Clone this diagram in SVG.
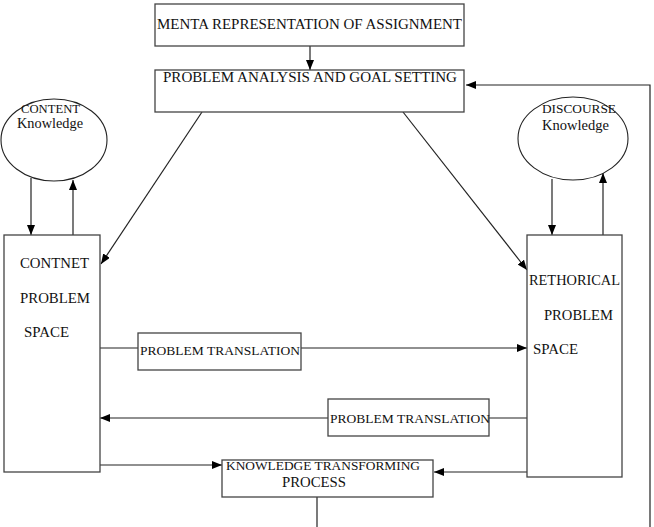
<svg xmlns="http://www.w3.org/2000/svg" width="654" height="527" viewBox="0 0 654 527">
<defs>
<marker id="ah" markerUnits="userSpaceOnUse" markerWidth="10" markerHeight="8" refX="10" refY="4" orient="auto">
<path d="M0,0 L10,4 L0,8 z" fill="#000"/>
</marker>
<style>
.box{fill:#fff;stroke:#444;stroke-width:1.3}
.ell{fill:#fff;stroke:#222;stroke-width:1.1}
.ln{fill:none;stroke:#222;stroke-width:1.2}
.ar{fill:none;stroke:#222;stroke-width:1.2;marker-end:url(#ah)}
text{font-family:"Liberation Serif","Times New Roman",serif;fill:#111}
.t15{font-size:14.8px}
.t13{font-size:13.4px}
</style>
</defs>
<rect width="654" height="527" fill="#fff"/>
<g id="connectors">
<line class="ar" x1="310" y1="46" x2="310" y2="70"/>
<polyline class="ar" points="650,527 650,85 466,85"/>
<line class="ar" x1="202" y1="112" x2="101" y2="264"/>
<line class="ar" x1="403" y1="112" x2="527" y2="270"/>
<line class="ar" x1="31" y1="178" x2="31" y2="235"/>
<line class="ar" x1="73" y1="235" x2="73" y2="180"/>
<line class="ar" x1="552" y1="179" x2="552" y2="235"/>
<line class="ar" x1="603" y1="235" x2="603" y2="173"/>
<line class="ln" x1="100" y1="348" x2="138" y2="348"/>
<line class="ar" x1="301" y1="348" x2="527" y2="348"/>
<line class="ln" x1="527" y1="418" x2="489" y2="418"/>
<line class="ar" x1="328" y1="418" x2="100" y2="418"/>
<line class="ar" x1="100" y1="465" x2="222" y2="465"/>
<line class="ar" x1="527" y1="472" x2="434" y2="472"/>
<line class="ln" x1="317" y1="497" x2="317" y2="527"/>
</g>
<g id="mental-representation">
<rect class="box" x="155" y="4" width="309" height="42"/>
<text class="t15" x="157" y="29" textLength="305" lengthAdjust="spacingAndGlyphs">MENTA REPRESENTATION OF ASSIGNMENT</text>
</g>
<g id="problem-analysis">
<rect class="box" x="155" y="70" width="309" height="42"/>
<text class="t15" x="163" y="82" textLength="294" lengthAdjust="spacingAndGlyphs">PROBLEM ANALYSIS AND GOAL SETTING</text>
</g>
<g id="content-knowledge">
<ellipse class="ell" cx="54" cy="140" rx="53" ry="41"/>
<text x="21" y="113" style="font-size:12.6px" textLength="59" lengthAdjust="spacingAndGlyphs">CONTENT</text>
<text x="17" y="128" style="font-size:14.3px" textLength="66" lengthAdjust="spacingAndGlyphs">Knowledge</text>
</g>
<g id="discourse-knowledge">
<ellipse class="ell" cx="573" cy="138.5" rx="55" ry="41.5"/>
<text x="542" y="113" style="font-size:13.3px" textLength="74" lengthAdjust="spacingAndGlyphs">DISCOURSE</text>
<text x="542" y="130" style="font-size:14.5px" textLength="67" lengthAdjust="spacingAndGlyphs">Knowledge</text>
</g>
<g id="content-problem-space">
<rect class="box" x="4" y="235" width="96" height="237"/>
<text class="t15" x="20" y="268" textLength="69" lengthAdjust="spacingAndGlyphs">CONTNET</text>
<text class="t15" x="20" y="303" textLength="70" lengthAdjust="spacingAndGlyphs">PROBLEM</text>
<text class="t15" x="24" y="337" textLength="45" lengthAdjust="spacingAndGlyphs">SPACE</text>
</g>
<g id="rhetorical-problem-space">
<rect class="box" x="527" y="235" width="95" height="242"/>
<text class="t15" x="529" y="285" textLength="91" lengthAdjust="spacingAndGlyphs">RETHORICAL</text>
<text class="t15" x="544" y="320" textLength="69" lengthAdjust="spacingAndGlyphs">PROBLEM</text>
<text class="t15" x="533" y="354" textLength="45" lengthAdjust="spacingAndGlyphs">SPACE</text>
</g>
<g id="problem-translation-1">
<rect class="box" x="138" y="333" width="163" height="37"/>
<text class="t13" x="140" y="355" textLength="160" lengthAdjust="spacingAndGlyphs">PROBLEM TRANSLATION</text>
</g>
<g id="problem-translation-2">
<rect class="box" x="328" y="399" width="161" height="37"/>
<text class="t13" x="330" y="423" textLength="160" lengthAdjust="spacingAndGlyphs">PROBLEM TRANSLATION</text>
</g>
<g id="knowledge-transforming">
<rect class="box" x="222" y="460" width="211" height="37"/>
<text class="t13" x="226" y="470" textLength="194" lengthAdjust="spacingAndGlyphs">KNOWLEDGE TRANSFORMING</text>
<text class="t15" x="282" y="487" textLength="64" lengthAdjust="spacingAndGlyphs">PROCESS</text>
</g>
</svg>
